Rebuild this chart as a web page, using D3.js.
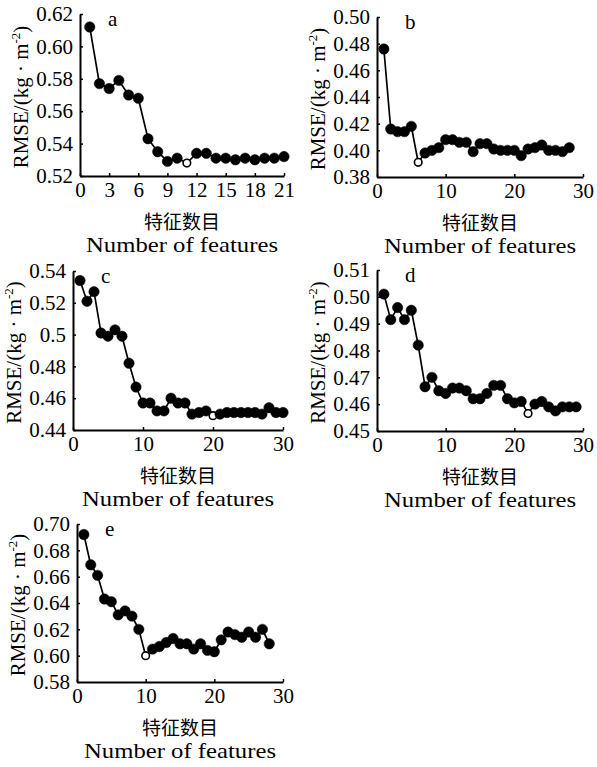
<!DOCTYPE html>
<html>
<head>
<meta charset="utf-8">
<script src="https://cdn.jsdelivr.net/npm/d3@7"></script>
<style>
  body { margin: 0; background: #fff; }
</style>
</head>
<body>
<div id="graph"></div>
<script>
// RMSE per number of features, one array per panel (x = 1..n)
var rmseA = [0.612, 0.577, 0.574, 0.579, 0.570, 0.568, 0.543, 0.535, 0.529, 0.531, 0.528,
             0.534, 0.534, 0.531, 0.531, 0.530, 0.531, 0.530, 0.531, 0.531, 0.532]
var rmseB = [0.476, 0.416, 0.414, 0.414, 0.418, 0.391, 0.398, 0.400, 0.402, 0.408, 0.408,
             0.406, 0.406, 0.399, 0.405, 0.405, 0.401, 0.400, 0.400, 0.400, 0.396, 0.401,
             0.402, 0.404, 0.400, 0.400, 0.399, 0.402]
var rmseC = [0.534, 0.521, 0.527, 0.501, 0.499, 0.503, 0.499, 0.482, 0.467, 0.457, 0.457,
             0.452, 0.452, 0.460, 0.457, 0.457, 0.450, 0.451, 0.452, 0.449, 0.450, 0.451,
             0.451, 0.451, 0.451, 0.451, 0.450, 0.454, 0.451, 0.451]
var rmseD = [0.501, 0.4915, 0.496, 0.4915, 0.495, 0.482, 0.4665, 0.470, 0.465, 0.464, 0.466,
             0.466, 0.465, 0.462, 0.462, 0.464, 0.467, 0.467, 0.462, 0.4605, 0.461, 0.4565,
             0.460, 0.461, 0.459, 0.4575, 0.459, 0.459, 0.459]
var rmseE = [0.692, 0.669, 0.661, 0.643, 0.641, 0.631, 0.634, 0.630, 0.620, 0.600, 0.605,
             0.607, 0.610, 0.613, 0.609, 0.609, 0.605, 0.609, 0.604, 0.603, 0.612, 0.618,
             0.616, 0.614, 0.618, 0.614, 0.620, 0.609]

// feature count with the lowest RMSE (drawn hollow)
var bestCount = { a: 11, b: 6, c: 20, d: 22, e: 10 }

var yTicksA = [0.52, 0.54, 0.56, 0.58, 0.60, 0.62]
var yTicksB = [0.38, 0.40, 0.42, 0.44, 0.46, 0.48, 0.50]
var yTicksC = [0.44, 0.46, 0.48, 0.5, 0.52, 0.54]
var yTicksD = [0.45, 0.46, 0.47, 0.48, 0.49, 0.50, 0.51]
var yTicksE = [0.58, 0.60, 0.62, 0.64, 0.66, 0.68, 0.70]
var xTicks21 = [0, 3, 6, 9, 12, 15, 18, 21]
var xTicks30 = [0, 10, 20, 30]

var xTitleCn = "特征数目"
var xTitleEn = "Number of features"

var SERIF = 'font-family: "Liberation Serif", "Times New Roman", serif'
var CJK = 'font-family: "Noto Sans CJK SC", sans-serif'

var svg = d3.select('#graph').append('svg')
  .attr('width', 597)
  .attr('height', 767)

svg.append('rect').attr('width', 597).attr('height', 767).attr('fill', '#fff')

var fmt2 = d3.format('.2f')
var fmtShort = d => String(+d.toFixed(2))

var panels = [
  { id: 'a', vals: rmseA, xMax: 21, xTicks: xTicks21, yTicks: yTicksA, fmt: fmt2, l: 80, r: 284, t: 14, b: 176 },
  { id: 'b', vals: rmseB, xMax: 30, xTicks: xTicks30, yTicks: yTicksB, fmt: fmt2, l: 377, r: 583, t: 17, b: 177 },
  { id: 'c', vals: rmseC, xMax: 30, xTicks: xTicks30, yTicks: yTicksC, fmt: fmtShort, l: 73, r: 283, t: 271, b: 430 },
  { id: 'd', vals: rmseD, xMax: 30, xTicks: xTicks30, yTicks: yTicksD, fmt: fmt2, l: 377, r: 583, t: 270, b: 431 },
  { id: 'e', vals: rmseE, xMax: 30, xTicks: xTicks30, yTicks: yTicksE, fmt: fmt2, l: 77, r: 283, t: 524, b: 682 }
]

panels.forEach(p => {
  var x = d3.scaleLinear().domain([0, p.xMax]).range([p.l, p.r])
  var y = d3.scaleLinear().domain(d3.extent(p.yTicks)).range([p.b, p.t])
  var pts = p.vals.map((v, i) => ({ n: i + 1, v: v }))

  var g = svg.append('g')

  // axes, ticks pointing inward
  g.append('g')
    .attr('transform', 'translate(' + p.l + ',0)')
    .call(d3.axisLeft(y).tickValues(p.yTicks).tickFormat(p.fmt)
      .tickSizeInner(-3).tickSizeOuter(0).tickPadding(7))
  g.append('g')
    .attr('transform', 'translate(0,' + p.b + ')')
    .call(d3.axisBottom(x).tickValues(p.xTicks).tickFormat(d3.format('d'))
      .tickSizeInner(-3).tickSizeOuter(0).tickPadding(6))

  g.selectAll('.domain').attr('stroke', '#000').attr('stroke-width', 2)
  g.selectAll('.tick line').attr('stroke', '#000').attr('stroke-width', 1.5)
  g.selectAll('.tick text')
    .attr('style', SERIF + '; font-size: 21px')
    .attr('fill', '#000')

  // line + markers
  var line = d3.line().x(d => x(d.n)).y(d => y(d.v))
  g.append('path')
    .datum(pts)
    .attr('d', line)
    .attr('fill', 'none')
    .attr('stroke', '#000')
    .attr('stroke-width', 1.7)

  g.selectAll('circle.pt')
    .data(pts)
    .join('circle')
    .attr('class', 'pt')
    .attr('cx', d => x(d.n))
    .attr('cy', d => y(d.v))
    .attr('r', d => d.n == bestCount[p.id] ? 3.8 : 5.2)
    .attr('fill', d => d.n == bestCount[p.id] ? '#fff' : '#000')
    .attr('stroke', '#000')
    .attr('stroke-width', d => d.n == bestCount[p.id] ? 1.6 : 0.5)

  // panel letter
  g.append('text')
    .attr('x', p.l + 28)
    .attr('y', p.t + 12)
    .attr('style', SERIF + '; font-size: 21px')
    .text(p.id)

  // y title
  var cy = (p.t + p.b) / 2 + 2
  var yt = g.append('text')
    .attr('transform', 'translate(' + (p.l - 52) + ',' + cy + ') rotate(-90)')
    .attr('text-anchor', 'middle')
    .attr('style', SERIF + '; font-size: 21px')
  yt.append('tspan').text('RMSE/(kg · m')
  yt.append('tspan').attr('style', 'font-size: 13px').attr('dy', -8).text('-2')
  yt.append('tspan').attr('dy', 8).text(')')

  // x titles
  var cx = (p.l + p.r) / 2
  g.append('text')
    .attr('x', cx)
    .attr('y', p.b + 53)
    .attr('text-anchor', 'middle')
    .attr('style', CJK + '; font-size: 19px')
    .text(xTitleCn)
  g.append('text')
    .attr('x', cx)
    .attr('y', p.b + 76)
    .attr('text-anchor', 'middle')
    .attr('style', SERIF + '; font-size: 22px')
    .attr('textLength', 192)
    .attr('lengthAdjust', 'spacingAndGlyphs')
    .text(xTitleEn)
})
</script>
</body>
</html>
